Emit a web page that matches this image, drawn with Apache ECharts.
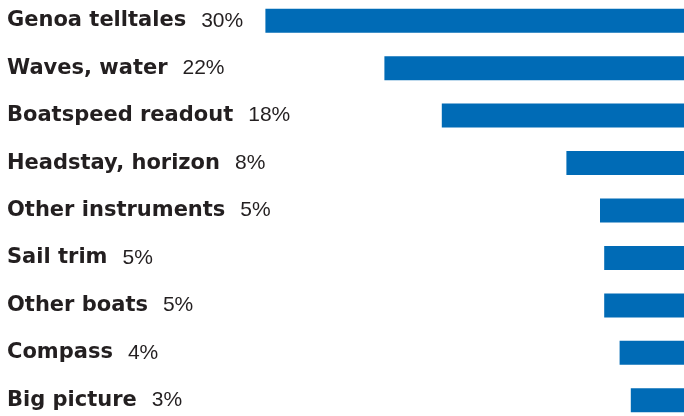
<!DOCTYPE html>
<html><head><meta charset="utf-8">
<script src="https://cdn.jsdelivr.net/npm/echarts@6/dist/echarts.min.js"></script>
<style>html,body{margin:0;padding:0;background:#fff}#c{width:684px;height:416px}</style>
</head><body><div id="c"></div>
<script>
const categories = ['Genoa telltales','Waves, water','Boatspeed readout','Headstay, horizon','Other instruments','Sail trim','Other boats','Compass','Big picture'];
const percentLabels = [30, 22, 18, 8, 5, 5, 5, 4, 3];
const barValues = [29.9, 21.4, 17.3, 8.4, 6.0, 5.7, 5.7, 4.6, 3.8];

const chart = echarts.init(document.getElementById('c'), null, {renderer:'canvas'});
const gridLeft = 264;
chart.setOption({
  animation:false,
  grid:{left:gridLeft, right:0, top:-3, bottom:-8, containLabel:false, outerBoundsMode:'none'},
  xAxis:{type:'value', min:0, max:30, inverse:true, show:false},
  yAxis:{type:'category', data:categories, inverse:true, position:'left',
    axisLine:{show:false}, axisTick:{show:false}, splitLine:{show:false},
    axisLabel:{align:'left', margin:gridLeft-7,
      formatter:(v,i)=>`{b|${v}}{p|${percentLabels[i]}%}`,
      rich:{
        b:{fontFamily:'DejaVu Sans', fontWeight:'bold', fontSize:21, color:'#231f20'},
        p:{fontFamily:'Liberation Sans', fontWeight:'normal', fontSize:21, color:'#231f20', padding:[0,0,0,15]}
      }}},
  series:[{type:'bar', data:barValues, barWidth:24, itemStyle:{color:'#006bb6'}, silent:true}]
});
</script></body></html>
